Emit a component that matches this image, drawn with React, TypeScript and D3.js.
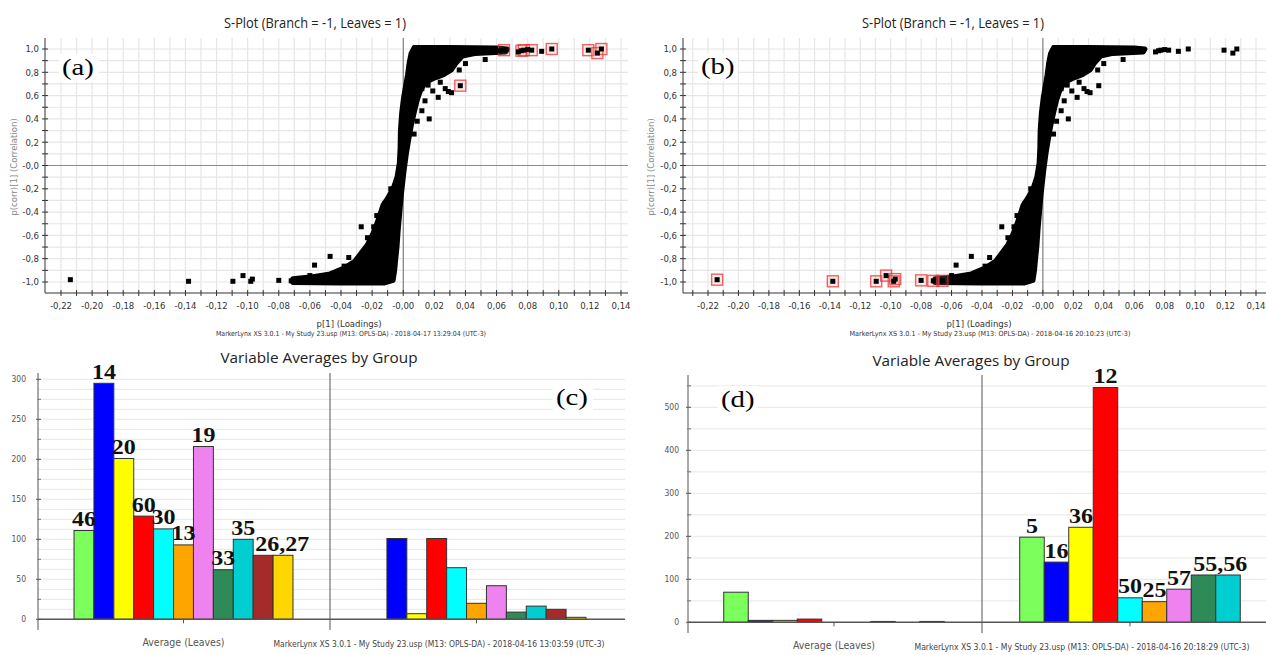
import React from 'react';
import * as d3 from 'd3';

const W = 1266;
const H = 655;

// S-plot: outline of the dense cloud of variables (p[1], p(corr)[1])
const sMass: [number, number][] = [
  [-0.071, -0.972], [-0.071, -1.004], [-0.04, -1.008], [-0.012, -1.008],
  [-0.0065, -0.985], [-0.0055, -0.9], [-0.0048, -0.8], [-0.004, -0.7],
  [-0.0032, -0.55], [-0.0022, -0.4], [-0.0012, -0.25], [0.0005, -0.05],
  [0.002, 0.1], [0.0035, 0.22], [0.005, 0.33], [0.007, 0.45],
  [0.009, 0.56], [0.011, 0.64], [0.014, 0.71], [0.02, 0.75],
  [0.026, 0.78], [0.031, 0.82], [0.034, 0.88], [0.038, 0.94],
  [0.046, 0.962], [0.056, 0.968], [0.066, 0.975], [0.067, 1.0],
  [0.06, 1.008], [0.03, 1.012], [0.007, 1.012], [0.005, 0.96],
  [0.0038, 0.88], [0.0028, 0.78], [0.0015, 0.68], [0.0002, 0.58],
  [-0.001, 0.45], [-0.0018, 0.3], [-0.002, 0.15], [-0.0025, 0.02],
  [-0.004, -0.1], [-0.0065, -0.2], [-0.01, -0.28], [-0.013, -0.34],
  [-0.015, -0.42], [-0.017, -0.5], [-0.02, -0.6], [-0.023, -0.68],
  [-0.027, -0.75], [-0.031, -0.82], [-0.038, -0.88], [-0.047, -0.93],
  [-0.06, -0.958],
];

// loose variables around the cloud
const sPoints: [number, number][] = [
  [0.0527, 0.91], [0.0367, 0.685], [0.029, 0.635], [0.0225, 0.585], [0.014, 0.555],
  [0.0167, 0.4], [0.0238, 0.715], [0.027, 0.66], [0.031, 0.625], [0.019, 0.64],
  [0.016, 0.69], [0.012, 0.47], [0.009, 0.38], [0.007, 0.27], [0.045, 0.985],
  [0.052, 0.99], [0.058, 0.995], [0.062, 0.985], [0.0648, 0.99], [0.066, 0.995],
  [0.074, 0.975], [0.076, 0.985], [0.0775, 0.99], [0.08, 0.995], [0.0826, 0.99],
  [0.089, 0.98], [0.0955, 1.0], [0.119, 0.99], [0.1248, 0.965], [0.1274, 1.0],
  [0.04, 0.875], [0.036, 0.82], [0.03, 0.86], [0.022, 0.77], [0.012, 0.66],
  [-0.214, -0.98], [-0.138, -0.994], [-0.1095, -0.994], [-0.103, -0.945], [-0.098, -0.994],
  [-0.097, -0.975], [-0.08, -0.986], [-0.072, -0.99], [-0.066, -0.99], [-0.057, -0.855],
  [-0.047, -0.78], [-0.038, -0.864], [-0.035, -0.79], [-0.027, -0.526], [-0.019, -0.526],
  [-0.06, -0.945], [-0.048, -0.94], [-0.042, -0.915], [-0.032, -0.905], [-0.028, -0.84],
  [-0.024, -0.78], [-0.02, -0.7], [-0.023, -0.62], [-0.017, -0.43], [-0.012, -0.33],
  [-0.008, -0.2], [-0.052, -0.965], [-0.044, -0.97],
];

const markedA: [number, number][] = [
  [0.0648, 0.99], [0.076, 0.985], [0.0775, 0.99], [0.0826, 0.99], [0.0955, 1.0],
  [0.119, 0.99], [0.1248, 0.965], [0.1274, 1.0], [0.0367, 0.685],
];
const markedB: [number, number][] = [
  [-0.214, -0.98], [-0.138, -0.994], [-0.1095, -0.994], [-0.103, -0.945], [-0.098, -0.994],
  [-0.097, -0.975], [-0.08, -0.986], [-0.072, -0.99], [-0.066, -0.99],
];

// Variable averages by group
const groups = ['Leaves', 'Branch'];
const colorsC = ['#7cff5c', '#0000ff', '#ffff00', '#ff0000', '#00ffff', '#ffa500',
  '#ee82ee', '#2e8b57', '#00ced1', '#a52a2a', '#ffd700'];
const leavesC = [111, 295, 201, 129, 113, 93, 216, 62, 100, 80, 80];
const branchC = [0, 101, 7, 101, 64.5, 20, 42, 9, 16.5, 12.5, 2.5];
const labelsC = [
  { text: '46', group: 0, bars: [0] }, { text: '14', group: 0, bars: [1] },
  { text: '20', group: 0, bars: [2] }, { text: '60', group: 0, bars: [3] },
  { text: '30', group: 0, bars: [4] }, { text: '13', group: 0, bars: [5] },
  { text: '19', group: 0, bars: [6] }, { text: '33', group: 0, bars: [7] },
  { text: '35', group: 0, bars: [8] }, { text: '26,27', group: 0, bars: [9, 10] },
];

const colorsD = ['#7cff5c', '#0000ff', '#ffff00', '#ff0000', '#00ffff', '#ffa500',
  '#ee82ee', '#2e8b57', '#00ced1'];
const leavesD = [70, 4.5, 4.5, 7.5, 0, 0, 2, 0, 2];
const branchD = [198, 140, 221, 546, 57, 48, 77, 110, 110];
const labelsD = [
  { text: '5', group: 1, bars: [0] }, { text: '16', group: 1, bars: [1] },
  { text: '36', group: 1, bars: [2] }, { text: '12', group: 1, bars: [3] },
  { text: '50', group: 1, bars: [4] }, { text: '25', group: 1, bars: [5] },
  { text: '57', group: 1, bars: [6] }, { text: '55,56', group: 1, bars: [7, 8] },
];

const loadTicks = d3.range(-22, 15, 2).map(v => v / 100);
const corrTicks = d3.range(-10, 11, 2).map(v => v / 10);

const narrow = '"Liberation Sans Narrow", "DejaVu Sans Condensed", Arial, sans-serif';
const serif = '"Liberation Serif", "Times New Roman", serif';
const ui = '"Open Sans", "Liberation Sans", sans-serif';

function comma(v: number, digits: number) {
  if (Math.abs(v) < 1e-9) return '-' + (0).toFixed(digits).replace('.', ',');
  return v.toFixed(digits).replace('.', ',');
}

function Tag({ x, y, text }: { x: number; y: number; text: string }) {
  return (
    <g>
      <rect x={x - 3} y={y - 21} width={40} height={28} fill="#fff" />
      <text transform={`translate(${x},${y}) scale(1.2,1)`} fontFamily={serif} fontSize={24} fill="#000">{text}</text>
    </g>
  );
}

function SPlot(props: any) {
  const { axisX, rightX, xr, marked, titleX, tagX, tagY, loadX, footer, footerX, footerW, yLabX } = props;
  const x = d3.scaleLinear().domain([-0.22, 0.14]).range(xr);
  const y = d3.scaleLinear().domain([-1, 1]).range([282, 49]);
  const top = 38;
  const bottom = 293;
  const minorX = d3.range(-23, 15).map(v => v / 100).filter(v => x(v) > axisX + 2 && x(v) < rightX);
  const minorY = d3.range(-10, 11).map(v => v / 10);
  const mass = d3.line<[number, number]>().x(d => x(d[0])).y(d => y(d[1])).curve(d3.curveLinearClosed)(sMass) || '';

  return (
    <g>
      <text x={titleX} y={28} textAnchor="middle" fontFamily={ui} fontSize={14} textLength={182} lengthAdjust="spacingAndGlyphs" fill="#222">
        S-Plot (Branch = -1, Leaves = 1)
      </text>
      {minorX.map(v => <line key={'gx' + v} x1={x(v)} x2={x(v)} y1={top} y2={bottom} stroke="#e6e6e6" strokeWidth={1.2} />)}
      {minorY.map(v => <line key={'gy' + v} x1={axisX} x2={rightX} y1={y(v)} y2={y(v)} stroke="#e6e6e6" strokeWidth={1.2} />)}
      <line x1={axisX} x2={rightX} y1={y(0)} y2={y(0)} stroke="#8a8a8a" />
      <line x1={x(0)} x2={x(0)} y1={top} y2={bottom} stroke="#707070" />
      <line x1={axisX} x2={axisX} y1={top} y2={bottom} stroke="#333" />
      <line x1={axisX} x2={rightX} y1={bottom} y2={bottom} stroke="#333" />
      {minorX.map(v => <line key={'tx' + v} x1={x(v)} x2={x(v)} y1={bottom - 3} y2={bottom + 3} stroke="#333" />)}
      {minorY.map(v => <line key={'ty' + v} x1={axisX - 3} x2={axisX + 3} y1={y(v)} y2={y(v)} stroke="#333" />)}
      {loadTicks.map(v => (
        <text key={'lx' + v} x={x(v)} y={309} textAnchor="middle" fontFamily={narrow} fontSize={9.5} fill="#333">{comma(v, 2)}</text>
      ))}
      {corrTicks.map(v => (
        <text key={'ly' + v} x={axisX - 6} y={y(v)} dy="0.35em" textAnchor="end" fontFamily={narrow} fontSize={9.5} fill="#333">{comma(v, 1)}</text>
      ))}
      <text transform={`translate(${yLabX},167) rotate(-90)`} textAnchor="middle" fontFamily={narrow} fontSize={9.5} fill="#888">
        p(corr)[1] (Correlation)
      </text>
      <text x={loadX} y={327} textAnchor="middle" fontFamily={narrow} fontSize={9.5} fill="#333">p[1] (Loadings)</text>
      <text x={footerX} y={336} textAnchor="middle" fontFamily={narrow} fontSize={7} textLength={footerW} lengthAdjust="spacingAndGlyphs" fill="#333">
        {footer}
      </text>

      <path d={mass} fill="#000" stroke="#000" strokeWidth={5} strokeLinejoin="round" />
      {marked.map((d: [number, number], i: number) => (
        <rect key={'m' + i} x={x(d[0]) - 5.5} y={y(d[1]) - 5.5} width={11} height={11}
          fill="rgba(255,150,150,0.18)" stroke="rgba(235,50,50,0.75)" strokeWidth={1.4} />
      ))}
      {sPoints.map((d, i) => (
        <rect key={'p' + i} x={x(d[0]) - 2.5} y={y(d[1]) - 2.5} width={5} height={5} fill="#000" />
      ))}
      <Tag x={tagX} y={tagY} text={props.tag} />
    </g>
  );
}

function BarPanel(props: any) {
  const { axisX, rightX, bandRange, pad, yMax, yRange, values, colors, labels, gridStep, tickStep,
    tickLabelX, axisTop, axisBottom, titleX, titleY, tag, tagX, tagY, catY, footer, footerX, footerW, footerY } = props;
  const y = d3.scaleLinear().domain([0, yMax]).range(yRange);
  const band = d3.scaleBand<string>().domain(groups).range(bandRange);
  const inner = d3.scaleBand<number>().domain(d3.range(colors.length)).range([0, band.bandwidth()]).paddingOuter(pad);
  const y0 = y(0);
  const gridVals = d3.range(gridStep, y.invert(axisTop), gridStep);
  const major = d3.range(0, yMax + 1, tickStep);
  const minor = d3.range(tickStep / 2, y.invert(axisTop), tickStep);
  const barX = (g: number, i: number) => (band(groups[g]) as number) + (inner(i) as number);

  return (
    <g>
      <text x={titleX} y={titleY} textAnchor="middle" fontFamily={ui} fontSize={15} textLength={197} lengthAdjust="spacingAndGlyphs" fill="#222">
        Variable Averages by Group
      </text>
      {gridVals.map(v => <line key={'g' + v} x1={axisX} x2={rightX} y1={y(v)} y2={y(v)} stroke="#ebebeb" strokeWidth={1.3} />)}
      <line x1={axisX} x2={axisX} y1={axisTop} y2={axisBottom} stroke="#555" />
      <line x1={band(groups[1])} x2={band(groups[1])} y1={axisTop} y2={axisBottom} stroke="#555" />
      {major.map(v => <line key={'t' + v} x1={axisX - 2} x2={axisX + 3} y1={y(v)} y2={y(v)} stroke="#555" />)}
      {minor.map(v => <line key={'mt' + v} x1={axisX - 1} x2={axisX + 3} y1={y(v)} y2={y(v)} stroke="#777" />)}
      {major.map(v => (
        <text key={'tl' + v} x={tickLabelX} y={y(v)} dy="0.35em" textAnchor="end" fontFamily={narrow} fontSize={8.5} fill="#555">{v}</text>
      ))}
      {values.map((vals: number[], g: number) => vals.map((v, i) => v > 0 && (
        <rect key={g + '-' + i} x={barX(g, i)} y={y(v)} width={inner.bandwidth()} height={y0 - y(v)}
          fill={colors[i]} stroke="#333" strokeWidth={1} />
      )))}
      <line x1={axisX} x2={rightX} y1={y0} y2={y0} stroke="#555" strokeWidth={1.5} />
      {groups.map(gname => {
        const cx = (band(gname) as number) + band.bandwidth() / 2;
        return <line key={'gt' + gname} x1={cx} x2={cx} y1={y0} y2={y0 + 4} stroke="#555" />;
      })}
      {labels.map((l: any) => {
        const top = y(d3.max(l.bars, (i: number) => values[l.group][i]) as number) - 4.5;
        const multi = l.bars.length > 1;
        const lx = multi ? barX(l.group, l.bars[0]) + 2 : barX(l.group, l.bars[0]) + inner.bandwidth() / 2;
        return (
          <text key={l.text} transform={`translate(${lx},${top}) scale(1.2,1)`} textAnchor={multi ? 'start' : 'middle'}
            fontFamily={serif} fontWeight="bold" fontSize={20} fill="#111">{l.text}</text>
        );
      })}
      <text x={(band(groups[0]) as number) + band.bandwidth() / 2} y={catY} textAnchor="middle" fontFamily={narrow} fontSize={10.5} fill="#555">
        Average (Leaves)
      </text>
      <text x={footerX} y={footerY} textAnchor="middle" fontFamily={narrow} fontSize={8.5} textLength={footerW} lengthAdjust="spacingAndGlyphs" fill="#444">
        {footer}
      </text>
      <Tag x={tagX} y={tagY} text={tag} />
    </g>
  );
}

export default function App() {
  return (
    <svg width={W} height={H} viewBox={`0 0 ${W} ${H}`} style={{ position: 'absolute', left: 0, top: 0, background: '#fff' }}>
      <rect width={W} height={H} fill="#fff" />
      <SPlot axisX={45} rightX={628} xr={[61, 621]} marked={markedA} titleX={315} tag="(a)" tagX={62} tagY={75}
        loadX={349} footerX={351} footerW={270} yLabX={17}
        footer="MarkerLynx XS 3.0.1 - My Study 23.usp (M13: OPLS-DA) - 2018-04-17 13:29:04 (UTC-3)" />
      <SPlot axisX={683} rightX={1266} xr={[708, 1256]} marked={markedB} titleX={953} tag="(b)" tagX={701} tagY={74}
        loadX={979} footerX={990} footerW={281} yLabX={654}
        footer="MarkerLynx XS 3.0.1 - My Study 23.usp (M13: OPLS-DA) - 2018-04-16 20:10:23 (UTC-3)" />
      <BarPanel axisX={38} rightX={625} bandRange={[37, 623]} pad={1.86} yMax={300} yRange={[619.3, 379.3]}
        values={[leavesC, branchC]} colors={colorsC} labels={labelsC} gridStep={12.5} tickStep={50}
        tickLabelX={26} axisTop={373} axisBottom={630} titleX={319} titleY={363} tag="(c)" tagX={556} tagY={405}
        catY={646} footerX={439} footerW={331} footerY={647}
        footer="MarkerLynx XS 3.0.1 - My Study 23.usp (M13: OPLS-DA) - 2018-04-16 13:03:59 (UTC-3)" />
      <BarPanel axisX={688} rightX={1266} bandRange={[686, 1278]} pad={1.54} yMax={500} yRange={[622.3, 407.3]}
        values={[leavesD, branchD]} colors={colorsD} labels={labelsD} gridStep={50} tickStep={100}
        tickLabelX={679} axisTop={375} axisBottom={633} titleX={971} titleY={366} tag="(d)" tagX={721} tagY={407}
        catY={649} footerX={1082} footerW={335} footerY={650}
        footer="MarkerLynx XS 3.0.1 - My Study 23.usp (M13: OPLS-DA) - 2018-04-16 20:18:29 (UTC-3)" />
    </svg>
  );
}
